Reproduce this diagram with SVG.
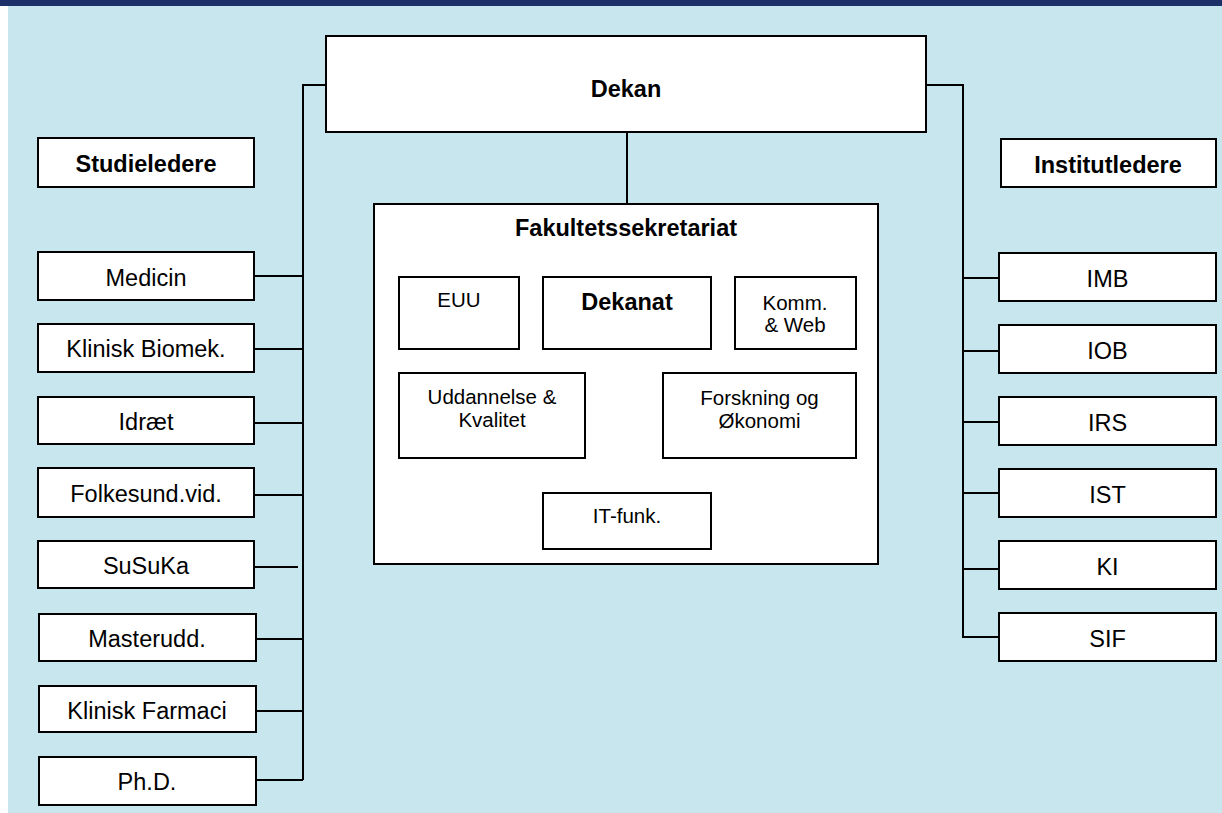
<svg xmlns="http://www.w3.org/2000/svg" width="1222" height="813" viewBox="0 0 1222 813">
<style>
.box{fill:#fff;stroke:#000;stroke-width:2}
.t{font-family:"Liberation Sans",Arial,sans-serif;font-size:23.5px;fill:#000;text-anchor:middle}
.b{font-weight:bold}
.s{font-size:20.5px}
.c{fill:none;stroke:#000;stroke-width:2}
</style>
<rect x="0" y="0" width="1222" height="813" fill="#fff"/>
<rect x="8" y="6" width="1214" height="807" fill="#c8e6ee"/>
<rect x="0" y="0" width="1222" height="6" fill="#1d3069"/>

<g id="connectors">
<polyline class="c" points="326,85 303,85 303,780"/>
<polyline class="c" points="926,85 963,85 963,637 999,637"/>
<line class="c" x1="627" y1="132" x2="627" y2="204"/>
<line class="c" x1="254" y1="276" x2="303" y2="276"/>
<line class="c" x1="254" y1="349" x2="303" y2="349"/>
<line class="c" x1="254" y1="423" x2="303" y2="423"/>
<line class="c" x1="254" y1="495" x2="303" y2="495"/>
<line class="c" x1="254" y1="567" x2="298" y2="567"/>
<line class="c" x1="254" y1="639" x2="303" y2="639"/>
<line class="c" x1="254" y1="711" x2="303" y2="711"/>
<line class="c" x1="254" y1="780" x2="303" y2="780"/>
<line class="c" x1="963" y1="278" x2="999" y2="278"/>
<line class="c" x1="963" y1="351" x2="999" y2="351"/>
<line class="c" x1="963" y1="422" x2="999" y2="422"/>
<line class="c" x1="963" y1="493" x2="999" y2="493"/>
<line class="c" x1="963" y1="569" x2="999" y2="569"/>
<line class="c" x1="519" y1="313" x2="543" y2="313"/>
<line class="c" x1="711" y1="313" x2="735" y2="313"/>
<line class="c" x1="627" y1="349" x2="627" y2="493"/>
</g>

<g id="dekan"><rect class="box" x="326" y="36" width="600" height="96"/><text class="t b" x="626" y="97">Dekan</text></g>

<g id="studieledere"><rect class="box" x="38" y="138" width="216" height="49"/><text class="t b" x="146" y="172">Studieledere</text></g>
<g id="medicin"><rect class="box" x="38" y="252" width="216" height="48"/><text class="t" x="146" y="286">Medicin</text></g>
<g id="klinisk-biomek"><rect class="box" x="38" y="324" width="216" height="48"/><text class="t" x="146" y="357">Klinisk Biomek.</text></g>
<g id="idraet"><rect class="box" x="38" y="397" width="216" height="47"/><text class="t" x="146" y="430">Idræt</text></g>
<g id="folkesund"><rect class="box" x="38" y="468" width="216" height="49"/><text class="t" x="146" y="502">Folkesund.vid.</text></g>
<g id="susuka"><rect class="box" x="38" y="541" width="216" height="47"/><text class="t" x="146" y="574">SuSuKa</text></g>
<g id="masterudd"><rect class="box" x="39" y="614" width="217" height="47"/><text class="t" x="147" y="647">Masterudd.</text></g>
<g id="klinisk-farmaci"><rect class="box" x="39" y="686" width="217" height="46"/><text class="t" x="147" y="719">Klinisk Farmaci</text></g>
<g id="phd"><rect class="box" x="39" y="757" width="217" height="48"/><text class="t" x="147" y="790">Ph.D.</text></g>

<g id="institutledere"><rect class="box" x="1001" y="139" width="215" height="48"/><text class="t b" x="1108" y="173">Institutledere</text></g>
<g id="imb"><rect class="box" x="999" y="253" width="217" height="48"/><text class="t" x="1107.5" y="287">IMB</text></g>
<g id="iob"><rect class="box" x="999" y="325" width="217" height="48"/><text class="t" x="1107.5" y="359">IOB</text></g>
<g id="irs"><rect class="box" x="999" y="397" width="217" height="48"/><text class="t" x="1107.5" y="431">IRS</text></g>
<g id="ist"><rect class="box" x="999" y="469" width="217" height="48"/><text class="t" x="1107.5" y="503">IST</text></g>
<g id="ki"><rect class="box" x="999" y="541" width="217" height="48"/><text class="t" x="1107.5" y="575">KI</text></g>
<g id="sif"><rect class="box" x="999" y="613" width="217" height="48"/><text class="t" x="1107.5" y="647">SIF</text></g>

<g id="fakultetssekretariat"><rect class="box" x="374" y="204" width="504" height="360"/><text class="t b" x="626" y="236">Fakultetssekretariat</text></g>
<g id="euu"><rect class="box" x="399" y="277" width="120" height="72"/><text class="t s" x="459" y="307">EUU</text></g>
<g id="dekanat"><rect class="box" x="543" y="277" width="168" height="72"/><text class="t b" x="627" y="310">Dekanat</text></g>
<g id="komm"><rect class="box" x="735" y="277" width="121" height="72"/><text class="t s" x="795" y="310">Komm.</text><text class="t s" x="795" y="332">&amp; Web</text></g>
<g id="uddannelse"><rect class="box" x="399" y="373" width="186" height="85"/><text class="t s" x="492" y="404">Uddannelse &amp;</text><text class="t s" x="492" y="427">Kvalitet</text></g>
<g id="forskning"><rect class="box" x="663" y="373" width="193" height="85"/><text class="t s" x="759.5" y="405">Forskning og</text><text class="t s" x="759.5" y="428">Økonomi</text></g>
<g id="it-funk"><rect class="box" x="543" y="493" width="168" height="56"/><text class="t s" x="627" y="523">IT-funk.</text></g>
</svg>
